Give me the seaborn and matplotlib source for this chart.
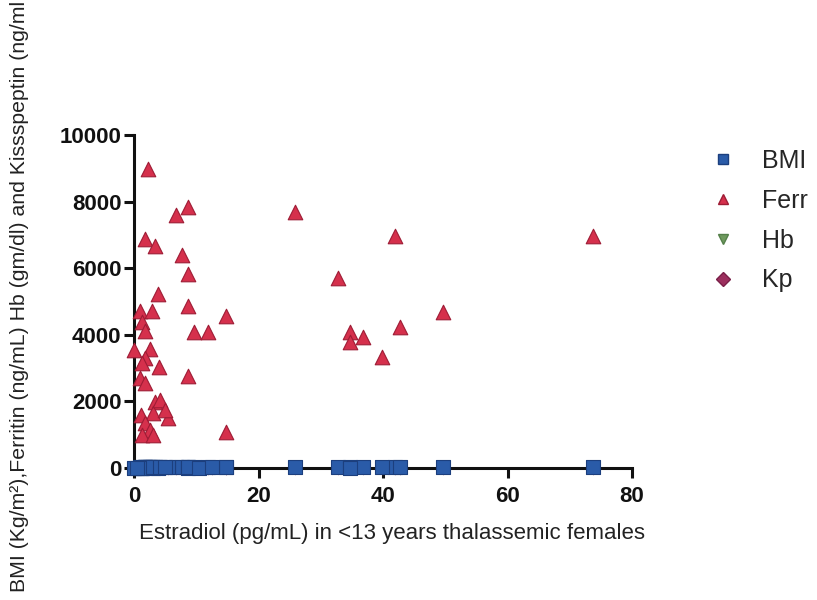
import matplotlib
matplotlib.use("Agg")
import matplotlib.pyplot as plt
import seaborn as sns
import pandas as pd
from matplotlib.lines import Line2D

# Estradiol (pg/mL), shared x for every series
estradiol = [2.25, 6.7, 8.7, 1.8, 3.4, 7.7, 8.7, 3.9, 1.0, 2.9,
             8.7, 14.8, 1.3, 1.8, 9.6, 11.9, 0.0, 2.6, 1.8, 1.3,
             4.0, 8.7, 1.0, 1.8, 3.4, 1.1, 3.1, 5.5, 1.8, 2.6,
             1.3, 3.1, 14.8, 25.9, 41.9, 73.7, 32.8, 49.6, 42.7, 34.7,
             36.8, 34.7, 39.8, 4.2, 5.0, 0.5, 10.5, 12.5]
ferritin = [8980, 7600, 7830, 6870, 6660, 6390, 5840, 5240, 4700, 4700,
            4850, 4550, 4370, 4100, 4070, 4070, 3550, 3580, 3310, 3160,
            3040, 2770, 2710, 2560, 1990, 1600, 1660, 1500, 1360, 1140,
            1000, 1000, 1080, 7680, 6960, 6960, 5720, 4670, 4220, 4070,
            3920, 3770, 3340, 2050, 1750, None, None, None]
bmi = [15.2, 16.1, 14.8, 15.5, 17.0, 16.4, 15.9, 14.6, 15.1, 16.8,
       17.3, 15.7, 14.9, 16.2, 15.4, 16.0, 14.5, 15.8, 16.6, 15.0,
       17.1, 16.3, 14.7, 15.6, 16.9, 15.3, 14.4, 16.5, 15.2, 16.7,
       14.8, 15.9, 16.1, 17.2, 15.5, 16.0, 15.8, 16.4, 17.0, 15.1,
       16.2, 14.9, 15.7, 16.3, 15.4, 14.6, 15.0, 16.8]
hb = [8.2, 9.1, 7.6, 8.8, 9.4, 7.9, 8.5, 9.0, 7.2, 8.7,
      9.3, 8.1, 7.8, 8.4, 9.6, 8.0, 7.5, 8.9, 9.2, 7.7,
      8.3, 9.5, 8.6, 7.4, 9.1, 8.2, 7.9, 8.8, 9.0, 8.1,
      7.6, 8.5, 9.3, 8.7, 7.8, 9.4, 8.0, 8.6, 9.2, 7.3,
      8.4, 9.1, 8.9, 7.7, 8.3, 9.0, 8.2, 7.9]
kp = [1.2, 2.4, 0.9, 1.8, 3.1, 1.5, 2.2, 0.8, 1.1, 2.7,
      1.9, 3.4, 1.3, 2.0, 1.6, 2.9, 0.7, 1.4, 2.5, 1.0,
      3.0, 1.7, 2.1, 0.6, 1.2, 2.6, 1.8, 3.2, 1.5, 0.9,
      2.3, 1.1, 2.8, 1.6, 3.3, 2.0, 1.4, 2.4, 0.8, 1.9,
      2.7, 1.3, 3.1, 1.0, 2.2, 1.7, 0.9, 2.5]

series_names = ["BMI", "Ferr", "Hb", "Kp"]
x_ticks = [0, 20, 40, 60, 80]
y_ticks = [0, 2000, 4000, 6000, 8000, 10000]

sns.set_theme(style="ticks")
plt.rcParams["font.family"] = ["Liberation Sans", "DejaVu Sans"]

fig = plt.figure(figsize=(8.17, 6.0), dpi=100)
ax = fig.add_axes([134 / 817, 1 - 468 / 600, (632 - 134) / 817, (468 - 135) / 600])

df = pd.DataFrame({"x": estradiol, "BMI": bmi, "Ferr": ferritin, "Hb": hb, "Kp": kp})

styles = {
    "Hb": dict(marker="v", color="#6f9a5e", edgecolor="#55804a", s=70, zorder=3),
    "Kp": dict(marker="D", color="#9c2f5e", edgecolor="#7a1f48", s=40, zorder=3),
    "BMI": dict(marker="s", color="#2a5ba8", edgecolor="#1c3f7e", s=90, zorder=4),
    "Ferr": dict(marker="^", color="#d5304c", edgecolor="#9e1c35", s=110, zorder=5),
}
for name in ["Hb", "Kp", "BMI", "Ferr"]:
    st = styles[name]
    sub = df[["x", name]].dropna()
    sns.scatterplot(data=sub, x="x", y=name, ax=ax, marker=st["marker"], color=st["color"],
                    edgecolor=st["edgecolor"], linewidth=0.8, s=st["s"], zorder=st["zorder"],
                    clip_on=False, label=name, legend=False)

ax.set_xlim(0, 80)
ax.set_ylim(0, 10000)
ax.set_xticks(x_ticks)
ax.set_yticks(y_ticks)
ax.set_xticklabels([str(t) for t in x_ticks], fontsize=16, fontweight="bold")
ax.set_yticklabels([str(t) for t in y_ticks], fontsize=16, fontweight="bold")
for sp in ["top", "right"]:
    ax.spines[sp].set_visible(False)
for sp in ["left", "bottom"]:
    ax.spines[sp].set_linewidth(2.2)
    ax.spines[sp].set_color("#111111")
ax.tick_params(axis="both", length=7, width=2.2, color="#111111", labelcolor="#111111")
ax.tick_params(axis="x", pad=6)
ax.tick_params(axis="y", pad=2)
ax.set_xlabel("Estradiol (pg/mL) in <13 years thalassemic females", fontsize=16, color="#222222")
ax.xaxis.set_label_coords((392 - 134) / (632 - 134), -(533 - 468) / (468 - 135))
ax.xaxis.label.set_va("center")
ax.set_ylabel("")

fig.text(20 / 817, 1 - 592 / 600, "BMI (Kg/m²),Ferritin (ng/mL) Hb (gm/dl) and Kissspeptin (ng/ml",
         rotation=90, ha="center", va="bottom", fontsize=15.3, color="#222222")

leg_handles = [Line2D([], [], linestyle="none", marker=styles[n]["marker"], markerfacecolor=styles[n]["color"],
                      markeredgecolor=styles[n]["edgecolor"], markersize=7) for n in series_names]
fig.legend(leg_handles, series_names, loc="upper left", bbox_to_anchor=(700 / 817, 1 - 139 / 600),
           frameon=False, fontsize=18, labelspacing=0.63, handletextpad=1.1, handlelength=1.0,
           borderaxespad=0)

fig.savefig("out.png", dpi=100)
